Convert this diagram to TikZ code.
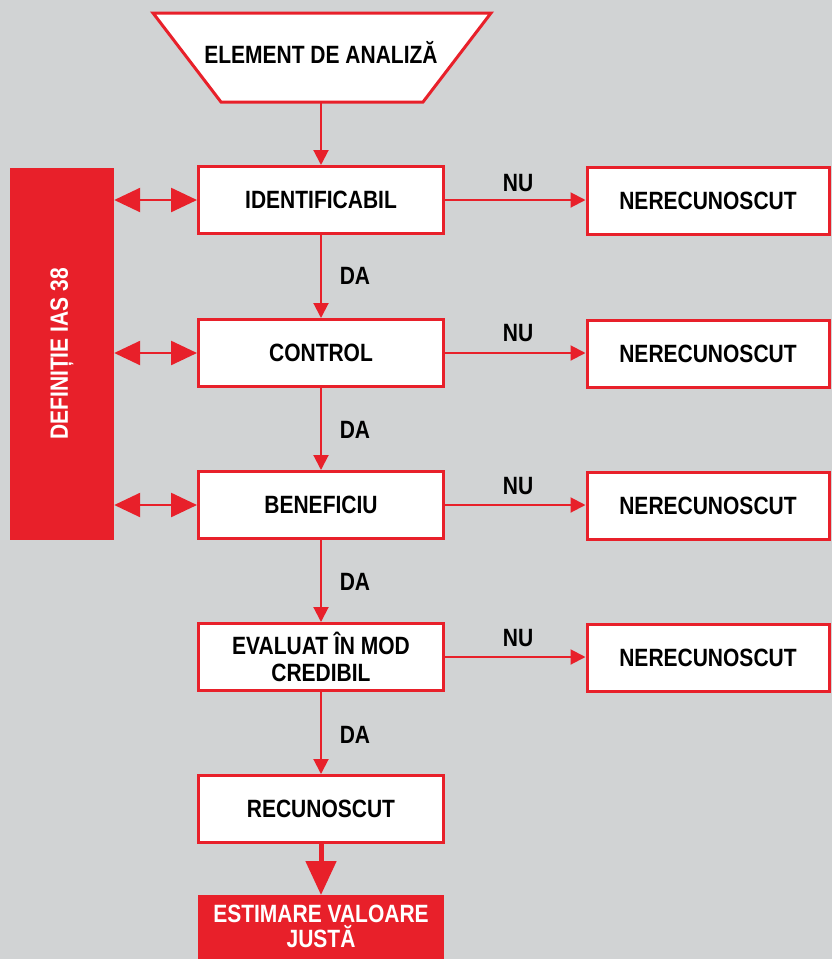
\documentclass[tikz,border=0pt]{standalone}
\usepackage{fontspec}
\setmainfont{Liberation Sans}[FakeStretch=0.84]
\usetikzlibrary{arrows.meta}
\definecolor{bg}{HTML}{D1D3D4}
\definecolor{myred}{HTML}{E8202A}
\tikzset{
  x=1pt, y=-1pt,
  box/.style={draw=myred, line width=3pt, fill=white, minimum width=245pt, minimum height=67pt, inner sep=0pt, align=center, font=\fontsize{25}{27}\selectfont\bfseries},
  redbox/.style={fill=myred, inner sep=0pt, align=center, text=white},
  lbl/.style={font=\fontsize{25}{27}\selectfont\bfseries, inner sep=0pt},
  flow/.style={draw=myred, line width=2pt, -{Triangle[length=15pt,width=15pt]}},
  dbl/.style={draw=myred, line width=2.5pt, {Triangle[length=26pt,width=24pt]}-{Triangle[length=26pt,width=24pt]}},
  thick/.style={draw=myred, line width=5pt, -{Triangle[length=34pt,width=30pt]}}
}
\begin{document}
\begin{tikzpicture}
\fill[bg] (0,0) rectangle (832,959);
\useasboundingbox (0,0) rectangle (832,959);
% trapezoid
\coordinate (t1) at (153,13);
\coordinate (t2) at (491,13);
\coordinate (t3) at (423,102);
\coordinate (t4) at (221,102);
\draw[myred, line width=3pt, fill=white, line join=miter] (t1) -- (t2) -- (t3) -- (t4) -- cycle;
\node[lbl] (elem) at (321,52) {ELEMENT DE ANALIZĂ};
\coordinate (tb) at (321,102);
% left red block
\node[redbox, minimum width=104pt, minimum height=372pt] (def) at (62,354) {};
\node[lbl, text=white, rotate=90] (deftxt) at (62,354) {DEFINIȚIE IAS 38};
% main column
\node[box] (id) at (321,200) {IDENTIFICABIL};
\node[box] (ctrl) at (321,353) {CONTROL};
\node[box] (ben) at (321,505) {BENEFICIU};
\node[box] (eval) at (321,657) {EVALUAT ÎN MOD\\CREDIBIL};
\node[box] (rec) at (321,809) {RECUNOSCUT};
\node[redbox, minimum width=246pt, minimum height=80pt, anchor=north] (est) at (321,895) {};
\node[align=center, text=white, font=\fontsize{25}{25}\selectfont\bfseries, inner sep=0pt] (esttxt) at (321,926) {ESTIMARE VALOARE\\JUSTĂ};
% right column
\node[box, minimum width=242pt] (n1) at (708,201) {NERECUNOSCUT};
\node[box, minimum width=242pt] (n2) at (708,354) {NERECUNOSCUT};
\node[box, minimum width=242pt] (n3) at (708,506) {NERECUNOSCUT};
\node[box, minimum width=242pt] (n4) at (708,658) {NERECUNOSCUT};
% vertical arrows
\draw[flow] (tb) -- (id.north);
\draw[flow] (id) -- (ctrl.north);
\draw[flow] (ctrl) -- (ben.north);
\draw[flow] (ben) -- (eval.north);
\draw[flow] (eval) -- (rec.north);
\draw[thick] (rec.south) -- (est.north);
% DA labels
\node[lbl] (da1) at (355,276) {DA};
\node[lbl] (da2) at (355,430) {DA};
\node[lbl] (da3) at (355,582) {DA};
\node[lbl] (da4) at (355,735) {DA};
% NU arrows
\draw[flow] (id.east) -- (n1.west |- id.east);
\draw[flow] (ctrl.east) -- (n2.west |- ctrl.east);
\draw[flow] (ben.east) -- (n3.west |- ben.east);
\draw[flow] (eval.east) -- (n4.west |- eval.east);
\node[lbl] (nu1) at (518,183) {NU};
\node[lbl] (nu2) at (518,333) {NU};
\node[lbl] (nu3) at (518,486) {NU};
\node[lbl] (nu4) at (518,638) {NU};
% double arrows
\draw[dbl] (def.east |- id.west) -- (id.west);
\draw[dbl] (def.east |- ctrl.west) -- (ctrl.west);
\draw[dbl] (def.east |- ben.west) -- (ben.west);
\end{tikzpicture}
\end{document}
